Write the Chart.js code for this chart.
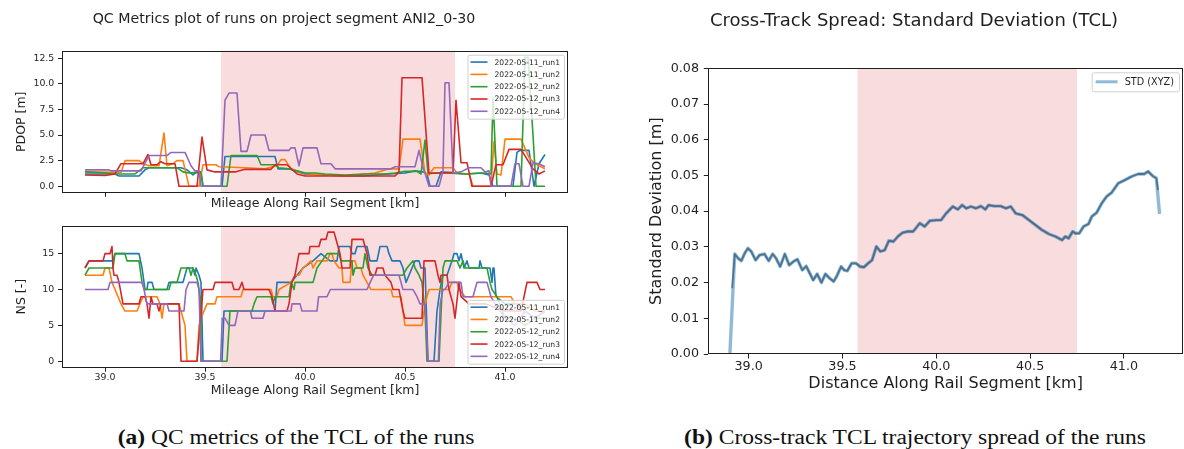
<!DOCTYPE html>
<html>
<head>
<meta charset="utf-8">
<script src="https://cdn.jsdelivr.net/npm/chart.js@4.4.1/dist/chart.umd.min.js"></script>
<style>
  html, body { margin: 0; padding: 0; background: #fff; }
  #fig { position: relative; width: 1184px; height: 449px; overflow: hidden; background: #fff; }
  #fig canvas { position: absolute; }
  .cap { position: absolute; top: 426px; font-family: "Liberation Serif", "DejaVu Serif", serif;
         font-size: 20px; color: #111; white-space: nowrap;
         transform: translateX(-50%) scaleX(1.176); transform-origin: center; }
  .cap b { font-weight: bold; }
</style>
</head>
<body>
<div id="fig">
  <canvas id="pdopChart" width="594" height="212" style="left:0px;top:0px;width:594px;height:212px"></canvas>
  <canvas id="nsChart" width="594" height="193" style="left:0px;top:212px;width:594px;height:193px"></canvas>
  <canvas id="stdChart" width="539" height="405" style="left:645px;top:0px;width:539px;height:405px"></canvas>
  <div class="cap" style="left:296px"><b>(a)</b> QC metrics of the TCL of the runs</div>
  <div class="cap" style="left:915px"><b>(b)</b> Cross-track TCL trajectory spread of the runs</div>
</div>
<script>
// ---- axes ----
const xTicks = [39.0, 39.5, 40.0, 40.5, 41.0];
const kmRange = [38.785, 41.315];
const shadeSpan = [39.58, 40.75];
const pdopTicks = [0, 2.5, 5, 7.5, 10, 12.5];
const pdopRange = [-0.63, 13.23];
const nsTicks = [0, 5, 10, 15];
const nsRange = [-0.9, 18.9];
const stdTicks = [0, 0.01, 0.02, 0.03, 0.04, 0.05, 0.06, 0.07, 0.08];
const stdRange = [0, 0.08];

// ---- runs ----
const runLabels = ['2022-05-11_run1', '2022-05-11_run2', '2022-05-12_run2', '2022-05-12_run3', '2022-05-12_run4'];

// PDOP [m] per run, [km, value]
const pdop_0511_run1 = [[38.90,1.2],[39.05,1.2],[39.07,1.0],[39.17,1.0],[39.20,1.6],[39.22,1.8],[39.38,1.8],[39.41,1.6],[39.44,1.1],[39.46,1.4],[39.48,1.4],[39.49,0],[39.585,0],[39.60,2.9],[39.85,2.9],[39.865,1.7],[39.92,1.7],[39.95,1.5],[40.0,1.2],[40.1,1.1],[40.2,1.0],[40.3,1.0],[40.35,1.1],[40.42,1.2],[40.5,1.3],[40.55,1.5],[40.59,1.4],[40.61,1.2],[40.625,0],[40.655,0],[40.68,1.4],[40.75,1.3],[40.8,1.2],[40.88,1.3],[40.92,1.1],[40.94,0],[41.04,0],[41.06,3.3],[41.075,3.5],[41.12,3.5],[41.145,0],[41.17,2.2],[41.2,3.1]];
const pdop_0511_run2 = [[38.90,1.4],[39.08,1.35],[39.10,2.5],[39.17,2.5],[39.19,2.2],[39.22,2.0],[39.27,2.0],[39.295,5.2],[39.31,2.0],[39.34,2.2],[39.36,2.5],[39.39,2.5],[39.42,0],[39.47,0],[39.49,2.1],[39.555,2.1],[39.57,1.9],[39.70,1.8],[39.80,1.7],[39.86,2.0],[39.88,2.6],[39.90,2.6],[39.93,1.7],[39.97,1.4],[40.02,1.2],[40.1,1.1],[40.2,1.0],[40.3,1.2],[40.35,1.3],[40.42,1.7],[40.47,1.7],[40.49,4.6],[40.575,4.6],[40.60,1.3],[40.62,1.1],[40.645,1.8],[40.74,1.8],[40.76,1.3],[40.82,1.2],[40.84,0],[40.93,0],[40.945,4.4],[40.96,1.2],[40.98,1.1],[41.0,4.6],[41.08,4.6],[41.12,2.8],[41.15,2.2],[41.2,1.7]];
const pdop_0512_run2 = [[38.90,1.4],[39.0,1.3],[39.05,1.2],[39.15,1.2],[39.19,1.8],[39.36,1.8],[39.39,1.4],[39.42,1.3],[39.46,1.35],[39.48,1.3],[39.49,0],[39.61,0],[39.63,3.0],[39.76,3.0],[39.78,2.1],[39.85,2.1],[39.87,1.8],[39.92,1.7],[39.96,1.5],[40.0,1.3],[40.05,1.3],[40.1,1.2],[40.2,1.1],[40.3,1.2],[40.4,1.2],[40.45,1.3],[40.5,1.45],[40.56,1.45],[40.58,1.2],[40.60,4.5],[40.615,1.3],[40.7,1.3],[40.8,1.2],[40.9,1.3],[40.93,1.2],[40.94,8.6],[40.96,0],[41.08,0],[41.10,12.6],[41.115,12.6],[41.14,5.0],[41.155,0],[41.2,0]];
const pdop_0512_run3 = [[38.90,1.1],[39.0,1.05],[39.05,1.2],[39.08,2.2],[39.19,2.2],[39.215,3.1],[39.23,2.1],[39.26,2.1],[39.28,2.4],[39.30,2.2],[39.35,2.2],[39.37,0],[39.46,0],[39.485,4.8],[39.51,1.6],[39.55,1.4],[39.65,1.4],[39.70,1.65],[39.83,1.65],[39.85,2.1],[39.91,2.1],[39.96,1.2],[40.0,1.0],[40.45,1.0],[40.47,1.4],[40.485,10.6],[40.585,10.6],[40.62,1.25],[40.74,1.35],[40.755,8.4],[40.78,2.3],[40.81,2.3],[40.835,0],[40.93,0],[40.955,2.1],[40.99,2.1],[41.02,3.6],[41.08,3.6],[41.14,1.7],[41.17,1.2],[41.2,1.5]];
const pdop_0512_run4 = [[38.90,1.6],[39.02,1.6],[39.03,1.5],[39.18,1.5],[39.22,3.0],[39.31,3.0],[39.33,3.3],[39.40,3.3],[39.43,2.0],[39.45,1.5],[39.47,1.5],[39.48,0],[39.58,0],[39.60,8.4],[39.62,9.1],[39.66,9.1],[39.68,3.4],[39.71,3.4],[39.73,5.0],[39.80,5.0],[39.82,3.5],[39.92,3.5],[39.93,3.75],[39.95,3.75],[39.97,2.0],[39.99,3.75],[40.06,3.75],[40.08,2.2],[40.13,2.2],[40.15,1.7],[40.43,1.7],[40.45,1.9],[40.55,1.9],[40.57,3.5],[40.59,1.8],[40.60,1.3],[40.62,0],[40.67,0],[40.69,1.5],[40.70,10.1],[40.72,10.1],[40.74,1.3],[40.78,1.4],[40.82,1.8],[40.88,1.8],[40.9,1.4],[40.92,1.5],[40.93,0],[41.03,0],[41.05,2.2],[41.07,2.2],[41.09,0],[41.12,0],[41.14,2.3],[41.17,2.2],[41.2,1.9]];

// NS [-] per run, [km, satellites]
const ns_0511_run1 = [[38.90,13],[38.92,14],[39.04,14],[39.05,15],[39.17,15],[39.185,13],[39.195,11],[39.20,10],[39.21,10],[39.215,11],[39.235,11],[39.245,10],[39.31,10],[39.32,11],[39.39,11],[39.40,12],[39.41,13],[39.44,13],[39.45,12],[39.455,13],[39.47,12],[39.48,11],[39.49,0],[39.585,0],[39.595,7],[39.85,7],[39.86,11],[39.93,11],[39.96,12],[39.99,13],[40.04,14],[40.08,15],[40.125,14],[40.16,14],[40.17,16],[40.225,16],[40.235,15],[40.25,15],[40.26,16],[40.31,16],[40.325,14],[40.36,14],[40.375,16],[40.41,16],[40.42,15],[40.435,14],[40.475,14],[40.49,13],[40.505,11],[40.52,12],[40.55,14],[40.57,14],[40.58,13],[40.60,13],[40.615,0],[40.645,0],[40.66,7],[40.675,10],[40.69,12],[40.71,12],[40.735,14],[40.745,15],[40.76,15],[40.77,14],[40.78,15],[40.795,13],[40.81,14],[40.82,13],[40.87,13],[40.875,14],[40.885,13],[40.925,13],[40.935,11],[40.94,13],[40.945,13],[40.955,9],[41.0,8],[41.05,8],[41.1,7],[41.15,6],[41.2,7]];
const ns_0511_run2 = [[38.90,12],[38.99,12],[39.00,13],[39.02,13],[39.035,11],[39.05,10],[39.08,8],[39.10,7],[39.16,7],[39.175,8],[39.19,9],[39.26,9],[39.275,8],[39.285,6],[39.295,8],[39.37,8],[39.38,7],[39.40,5],[39.41,0],[39.46,0],[39.47,5],[39.48,6],[39.495,7],[39.51,8],[39.55,8],[39.56,9],[39.68,9],[39.69,10],[39.83,10],[39.84,9],[39.86,9],[39.87,10],[39.93,11],[39.95,12],[39.97,12],[39.99,13],[40.03,14],[40.04,13],[40.06,14],[40.11,14],[40.125,15],[40.135,15],[40.145,14],[40.17,13],[40.185,13],[40.19,11],[40.225,11],[40.235,14],[40.25,14],[40.26,13],[40.28,13],[40.29,12],[40.31,11],[40.33,10],[40.43,10],[40.44,9],[40.48,9],[40.49,7],[40.50,5],[40.585,5],[40.595,7],[40.61,9],[40.62,10],[40.72,10],[40.735,11],[40.76,11],[40.77,10],[40.80,9],[40.85,9],[40.9,9],[40.95,9],[41.0,9],[41.03,9],[41.05,8],[41.1,8],[41.15,7],[41.2,7]];
const ns_0512_run2 = [[38.90,12],[38.92,13],[39.04,13],[39.05,15],[39.10,15],[39.11,14],[39.17,14],[39.185,11],[39.20,10],[39.32,10],[39.33,11],[39.36,11],[39.37,12],[39.38,13],[39.42,13],[39.43,12],[39.44,13],[39.455,12],[39.465,11],[39.475,9],[39.48,0],[39.61,0],[39.625,7],[39.735,7],[39.745,8],[39.76,9],[39.83,9],[39.84,8],[39.85,9],[39.92,9],[39.93,11],[39.945,10],[39.95,11],[40.04,11],[40.05,12],[40.06,13],[40.085,14],[40.11,15],[40.17,15],[40.18,14],[40.235,14],[40.24,12],[40.25,13],[40.29,13],[40.30,15],[40.315,13],[40.335,12],[40.49,12],[40.51,13],[40.54,14],[40.55,13],[40.57,12],[40.585,11],[40.60,7],[40.61,0],[40.67,0],[40.69,13],[40.70,14],[40.76,14],[40.775,13],[40.79,14],[40.80,13],[40.91,13],[40.925,11],[40.935,10],[40.96,9],[41.0,6],[41.05,6],[41.1,5],[41.15,6],[41.2,6]];
const ns_0512_run3 = [[38.90,13],[38.92,14],[38.99,14],[39.00,15],[39.025,15],[39.035,16],[39.04,13],[39.045,12],[39.06,12],[39.07,11],[39.09,8],[39.17,8],[39.18,9],[39.20,9],[39.21,8],[39.22,6],[39.23,9],[39.24,8],[39.26,8],[39.27,7],[39.28,8],[39.37,8],[39.38,0],[39.46,0],[39.475,5],[39.49,10],[39.54,10],[39.55,11],[39.635,11],[39.645,10],[39.67,10],[39.685,11],[39.695,10],[39.82,10],[39.835,9],[39.85,7],[39.91,7],[39.92,8],[39.935,11],[39.95,12],[39.97,15],[40.02,15],[40.025,16],[40.07,16],[40.08,17],[40.105,17],[40.115,18],[40.145,18],[40.155,17],[40.165,16],[40.175,15],[40.185,13],[40.225,13],[40.235,17],[40.29,17],[40.30,16],[40.31,15],[40.325,12],[40.35,12],[40.36,13],[40.39,13],[40.40,12],[40.43,11],[40.44,10],[40.47,10],[40.49,7],[40.50,6],[40.585,6],[40.595,14],[40.65,14],[40.665,12],[40.675,11],[40.68,12],[40.71,12],[40.72,10],[40.74,8],[40.75,6],[40.77,11],[40.78,9],[40.82,8],[40.9,8],[41.0,7],[41.08,7],[41.11,11],[41.16,11],[41.175,10],[41.2,10]];
const ns_0512_run4 = [[38.90,10],[39.015,10],[39.025,11],[39.185,11],[39.195,10],[39.21,8],[39.31,8],[39.32,7],[39.395,7],[39.405,10],[39.42,11],[39.46,11],[39.47,10],[39.48,0],[39.578,0],[39.586,6],[39.60,6],[39.62,5],[39.65,5],[39.665,7],[39.727,7],[39.735,6],[39.79,6],[39.80,7],[39.93,7],[39.935,8],[39.975,8],[39.985,7],[40.06,7],[40.068,9],[40.11,9],[40.127,10],[40.31,10],[40.326,11],[40.343,12],[40.47,12],[40.48,11],[40.49,10],[40.54,10],[40.56,9],[40.575,8],[40.60,8],[40.615,0],[40.667,0],[40.676,8],[40.69,10],[40.70,10],[40.72,11],[40.78,11],[40.79,9],[40.84,9],[40.85,10],[40.86,11],[40.91,11],[40.92,10],[40.93,9],[40.95,8],[41.0,6],[41.05,5],[41.1,7],[41.15,6],[41.2,7]];

// Cross-track spread: shared body of the curve
const stdKm = [38.926,38.944,38.961,38.979,38.996,39.014,39.037,39.058,39.084,39.107,39.128,39.146,39.168,39.193,39.216,39.239,39.26,39.286,39.307,39.321,39.344,39.365,39.388,39.409,39.432,39.453,39.47,39.493,39.509,39.526,39.549,39.572,39.593,39.614,39.637,39.658,39.681,39.702,39.725,39.747,39.772,39.795,39.821,39.847,39.877,39.912,39.938,39.965,40.0,40.026,40.053,40.088,40.115,40.138,40.159,40.185,40.212,40.238,40.261,40.279,40.309,40.344,40.37,40.397,40.423,40.459,40.494,40.529,40.564,40.6,40.635,40.67,40.688,40.705,40.727,40.741,40.762,40.785,40.811,40.829,40.855,40.882,40.908,40.935,40.97,41.005,41.041,41.076,41.108,41.129,41.155,41.173];
const stdXYZ = [0.0280,0.0268,0.0261,0.0282,0.0296,0.0287,0.0263,0.0277,0.0280,0.0261,0.0280,0.0268,0.0245,0.0280,0.0249,0.0259,0.0265,0.0235,0.0246,0.0231,0.0207,0.0224,0.0200,0.0224,0.0212,0.0203,0.0218,0.0245,0.0235,0.0233,0.0254,0.0254,0.0245,0.0243,0.0254,0.0263,0.0301,0.0287,0.0291,0.0317,0.0315,0.0329,0.0340,0.0343,0.0343,0.0366,0.0357,0.0373,0.0375,0.0375,0.0394,0.0413,0.0405,0.0417,0.0408,0.0413,0.0408,0.0414,0.0405,0.0417,0.0414,0.0414,0.0408,0.0413,0.0394,0.0389,0.0375,0.0361,0.0347,0.0336,0.0329,0.0319,0.0329,0.0324,0.0343,0.0338,0.0338,0.0357,0.0364,0.0385,0.0396,0.0422,0.0441,0.0452,0.0478,0.0487,0.0497,0.0504,0.0504,0.0511,0.0498,0.0492];
// end points that differ between the two traces
const xyzHead = [38.90, 0.0];
const xyzTail = [41.19, 0.0392];
const overlayHead = [38.912, 0.0184];
const overlayTail = [41.182, 0.0459];

// ---- styling ----
const runColors = ['#1f77b4', '#ff7f0e', '#2ca02c', '#d62728', '#9467bd'];
const FONT = '"DejaVu Sans", "Liberation Sans", sans-serif';
const INK = '#1f1f1f';
Chart.defaults.font.family = FONT;
Chart.defaults.color = INK;

const toPoints = arr => arr.map(([x, y]) => ({x, y}));

// shaded span behind the traces
const spanShade = {
  id: 'spanShade',
  beforeDatasetsDraw(chart, args, opts) {
    const {ctx, chartArea: a, scales: {x}} = chart;
    const x0 = x.getPixelForValue(opts.span[0]);
    const x1 = x.getPixelForValue(opts.span[1]);
    ctx.save();
    ctx.fillStyle = opts.color;
    ctx.fillRect(x0, a.top, x1 - x0, a.bottom - a.top);
    ctx.restore();
  }
};

// four-sided frame round the plotting area
const axesFrame = {
  id: 'axesFrame',
  afterDraw(chart) {
    const {ctx, chartArea: a} = chart;
    ctx.save();
    ctx.strokeStyle = INK;
    ctx.lineWidth = 1;
    ctx.strokeRect(Math.round(a.left) + 0.5, Math.round(a.top) + 0.5,
                   Math.round(a.right - a.left) - 1, Math.round(a.bottom - a.top) - 1);
    ctx.restore();
  }
};

// legend box drawn inside the plotting area
const insetLegend = {
  id: 'insetLegend',
  afterDatasetsDraw(chart, args, o) {
    const {ctx, chartArea: a} = chart;
    const items = chart.data.datasets.filter(d => d.label);
    ctx.save();
    ctx.font = `${o.fontSize}px ${FONT}`;
    const tw = Math.max(...items.map(d => ctx.measureText(d.label).width));
    const w = o.padL + o.sample + o.gap + tw + o.padR;
    const h = o.padY * 2 + items.length * o.rowH;
    const x = a.right - o.inset - w;
    const y = o.corner === 'top' ? a.top + o.inset : a.bottom - o.inset - h;
    ctx.beginPath();
    ctx.roundRect(x + 0.5, y + 0.5, w, h, 2);
    ctx.fillStyle = 'rgba(255,255,255,0.8)';
    ctx.fill();
    ctx.strokeStyle = '#d0d0d0';
    ctx.lineWidth = 1;
    ctx.stroke();
    items.forEach((d, i) => {
      const cy = y + o.padY + o.rowH * (i + 0.5);
      ctx.beginPath();
      ctx.moveTo(x + o.padL, cy);
      ctx.lineTo(x + o.padL + o.sample, cy);
      ctx.strokeStyle = d.borderColor;
      ctx.lineWidth = o.lineWidth;
      ctx.stroke();
      ctx.fillStyle = INK;
      ctx.textBaseline = 'middle';
      ctx.fillText(d.label, x + o.padL + o.sample + o.gap, cy + 0.5);
    });
    ctx.restore();
  }
};

function kmAxis({labels, tickSize, tickLen, tickPad, title, titleSize, titlePad, height}) {
  return {
    type: 'linear', min: kmRange[0], max: kmRange[1],
    afterBuildTicks: s => { s.ticks = xTicks.map(v => ({value: v})); },
    ticks: { display: labels, callback: v => v.toFixed(1), font: {size: tickSize}, color: INK,
             padding: tickPad, maxRotation: 0, autoSkip: false },
    grid: { drawOnChartArea: false, drawTicks: true, tickLength: tickLen, color: INK, lineWidth: 1 },
    border: { display: false },
    title: { display: true, text: title, font: {size: titleSize}, color: INK, padding: {top: 0, bottom: titlePad} },
    afterFit: s => { s.height = height; }
  };
}

function valueAxis({range, ticks, fmt, tickSize, tickLen, tickPad, title, titleSize, titlePad, width}) {
  return {
    type: 'linear', min: range[0], max: range[1],
    afterBuildTicks: s => { s.ticks = ticks.map(v => ({value: v})); },
    ticks: { callback: fmt, font: {size: tickSize}, color: INK, padding: tickPad, autoSkip: false },
    grid: { drawOnChartArea: false, drawTicks: true, tickLength: tickLen, color: INK, lineWidth: 1 },
    border: { display: false },
    title: { display: true, text: title, font: {size: titleSize}, color: INK, padding: {top: titlePad, bottom: 0} },
    afterFit: s => { s.width = width; }
  };
}

function runDatasets(series) {
  return series.map((s, i) => ({
    label: runLabels[i], data: toPoints(s), borderColor: runColors[i],
    borderWidth: 1.6, pointRadius: 0, tension: 0, borderJoinStyle: 'round',
    order: series.length - i
  }));
}

const smallLegend = { fontSize: 7.6, padL: 3, padR: 4, sample: 17, gap: 7, rowH: 12.3, padY: 1.2, inset: 4, lineWidth: 1.6 };

// PDOP panel
new Chart(document.getElementById('pdopChart'), {
  type: 'line',
  data: { datasets: runDatasets([pdop_0511_run1, pdop_0511_run2, pdop_0512_run2, pdop_0512_run3, pdop_0512_run4]) },
  options: {
    responsive: false, animation: false, devicePixelRatio: 1,
    layout: { padding: {left: 0, right: 26, top: 0, bottom: 0} },
    scales: {
      x: kmAxis({labels: false, tickSize: 9.4, tickLen: 4, tickPad: 0,
                 title: 'Mileage Along Rail Segment [km]', titleSize: 12.5, titlePad: 1, height: 19.3}),
      y: valueAxis({range: pdopRange, ticks: pdopTicks, fmt: v => v.toFixed(1), tickSize: 9.4, tickLen: 4, tickPad: 3.7,
                    title: 'PDOP [m]', titleSize: 12.5, titlePad: 14.5, width: 62})
    },
    plugins: {
      legend: { display: false }, tooltip: { enabled: false },
      title: { display: true, text: 'QC Metrics plot of runs on project segment ANI2_0-30',
               font: {size: 14.2, weight: 'normal'}, color: INK, padding: {top: 10.5, bottom: 23.2} },
      spanShade: { span: shadeSpan, color: 'rgba(220,60,65,0.18)' },
      insetLegend: Object.assign({corner: 'top'}, smallLegend)
    }
  },
  plugins: [spanShade, insetLegend, axesFrame]
});

// NS panel
new Chart(document.getElementById('nsChart'), {
  type: 'line',
  data: { datasets: runDatasets([ns_0511_run1, ns_0511_run2, ns_0512_run2, ns_0512_run3, ns_0512_run4]) },
  options: {
    responsive: false, animation: false, devicePixelRatio: 1,
    layout: { padding: {left: 0, right: 26, top: 13.7, bottom: 0} },
    scales: {
      x: kmAxis({labels: true, tickSize: 9.4, tickLen: 4, tickPad: 0.5,
                 title: 'Mileage Along Rail Segment [km]', titleSize: 12.5, titlePad: 6.5, height: 37.3}),
      y: valueAxis({range: nsRange, ticks: nsTicks, fmt: v => String(Math.round(v)), tickSize: 9.4, tickLen: 4, tickPad: 3.7,
                    title: 'NS [-]', titleSize: 12.5, titlePad: 14.5, width: 62})
    },
    plugins: {
      legend: { display: false }, tooltip: { enabled: false },
      spanShade: { span: shadeSpan, color: 'rgba(220,60,65,0.18)' },
      insetLegend: Object.assign({corner: 'bottom'}, smallLegend)
    }
  },
  plugins: [spanShade, insetLegend, axesFrame]
});

// Cross-track spread panel
const xyzPoints = [xyzHead].concat(stdKm.map((k, i) => [k, stdXYZ[i]]), [xyzTail]);
const overlayPoints = [overlayHead].concat(stdKm.map((k, i) => [k, stdXYZ[i]]), [overlayTail]);
new Chart(document.getElementById('stdChart'), {
  type: 'line',
  data: { datasets: [
    { label: 'STD (XYZ)', data: toPoints(xyzPoints), borderColor: 'rgba(31,119,180,0.5)', borderWidth: 3.4,
      pointRadius: 0, tension: 0, borderJoinStyle: 'round', order: 1 },
    { data: toPoints(overlayPoints), borderColor: 'rgba(28,55,80,0.55)', borderWidth: 1.8,
      pointRadius: 0, tension: 0, borderJoinStyle: 'round', order: 0 }
  ] },
  options: {
    responsive: false, animation: false, devicePixelRatio: 1,
    layout: { padding: {left: 0, right: 1, top: 0, bottom: 0} },
    scales: {
      x: kmAxis({labels: true, tickSize: 12.7, tickLen: 4.5, tickPad: 1,
                 title: 'Distance Along Rail Segment [km]', titleSize: 16, titlePad: 12, height: 51}),
      y: valueAxis({range: stdRange, ticks: stdTicks, fmt: v => v.toFixed(2), tickSize: 12.7, tickLen: 4.5, tickPad: 4.8,
                    title: 'Standard Deviation [m]', titleSize: 16, titlePad: 2.7, width: 63.3})
    },
    plugins: {
      legend: { display: false }, tooltip: { enabled: false },
      title: { display: true, text: 'Cross-Track Spread: Standard Deviation (TCL)',
               font: {size: 18, weight: 'normal'}, color: INK, padding: {top: 10.2, bottom: 36.5} },
      spanShade: { span: shadeSpan, color: 'rgba(220,60,65,0.18)' },
      insetLegend: { corner: 'top', fontSize: 9.7, padL: 4, padR: 5, sample: 22, gap: 7, rowH: 15, padY: 2, inset: 4, lineWidth: 3 }
    }
  },
  plugins: [spanShade, insetLegend, axesFrame]
});
</script>
</body>
</html>
